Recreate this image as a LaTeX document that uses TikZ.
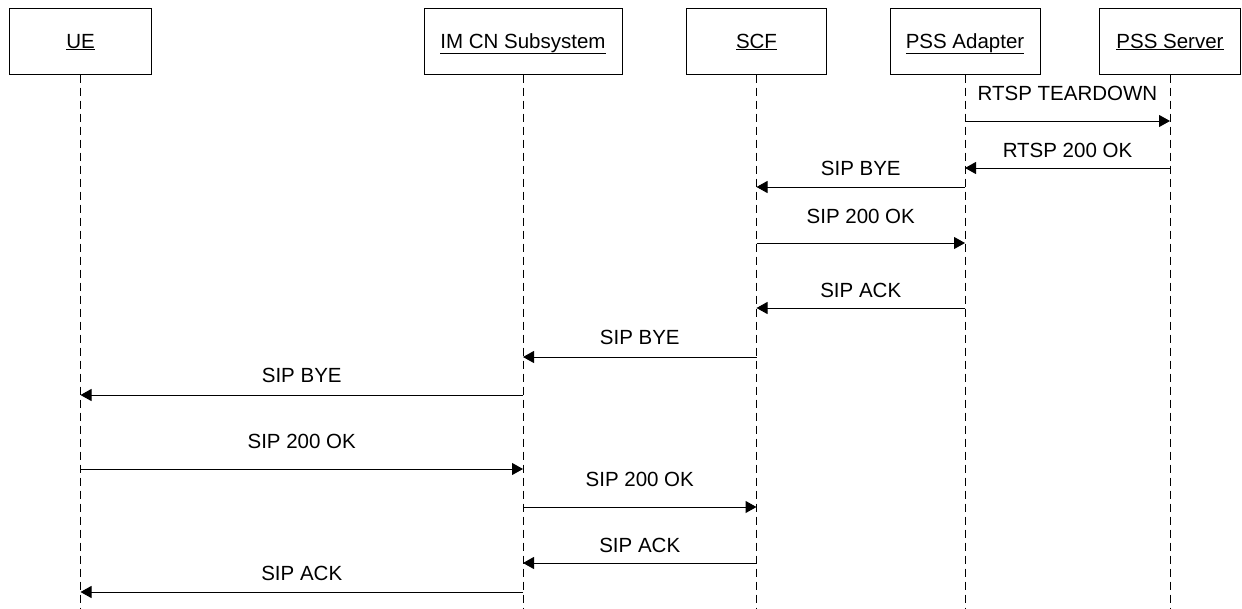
\documentclass[tikz,border=0pt]{standalone}
\usepackage{fontspec}
\setmainfont{Liberation Sans}
\usetikzlibrary{arrows.meta,calc}
\begin{document}
\begin{tikzpicture}[x=1pt,y=-1pt,
  every node/.style={font=\fontsize{20.5}{24}\selectfont},
  entity/.style={draw,line width=1pt,minimum height=66pt,inner sep=0pt,text height=19pt,text depth=5pt},
  life/.style={line width=0.9pt,dash pattern=on 8pt off 5pt},
  msg/.style={line width=1pt,-{Triangle[length=11pt,width=12pt]}},
  lbl/.style={inner sep=0pt,anchor=base}]
\useasboundingbox (0,0) rectangle (1242,608);
\node[entity,minimum width=142pt] (ue) at (80.5,41) {\underline{UE}};
\node[entity,minimum width=198pt] (ims) at (523,41) {\underline{IM CN Subsystem}};
\node[entity,minimum width=140pt] (scf) at (756.5,41) {\underline{SCF}};
\node[entity,minimum width=150pt] (ad) at (965,41) {\underline{PSS Adapter}};
\node[entity,minimum width=141pt] (srv) at (1170,41) {\underline{PSS Server}};
\foreach \n in {ue,ims,scf,ad,srv}{
  \coordinate (\n-end) at (\n.south |- 0,608);
  \draw[life] (\n.south) -- (\n-end);
}
% messages: from, to, arrow y, label, label baseline y
\newcommand\msgline[5]{%
  \coordinate (#1-#3) at (#1.south |- 0,#3);
  \coordinate (#2-#3) at (#2.south |- 0,#3);
  \draw[msg] (#1-#3) -- (#2-#3);
  \node[lbl] at ($(#1-#3)!0.5!(#2-#3) + (0,#5-#3)$) {#4};
}
\msgline{ad}{srv}{121}{RTSP TEARDOWN}{100}
\msgline{srv}{ad}{168}{RTSP 200 OK}{157}
\msgline{ad}{scf}{187}{SIP BYE}{175}
\msgline{scf}{ad}{243}{SIP 200 OK}{223}
\msgline{ad}{scf}{308}{SIP ACK}{297}
\msgline{scf}{ims}{357}{SIP BYE}{344}
\msgline{ims}{ue}{395}{SIP BYE}{382}
\msgline{ue}{ims}{469}{SIP 200 OK}{448}
\msgline{ims}{scf}{507}{SIP 200 OK}{486}
\msgline{scf}{ims}{563}{SIP ACK}{552}
\msgline{ims}{ue}{592}{SIP ACK}{580}
\end{tikzpicture}
\end{document}
